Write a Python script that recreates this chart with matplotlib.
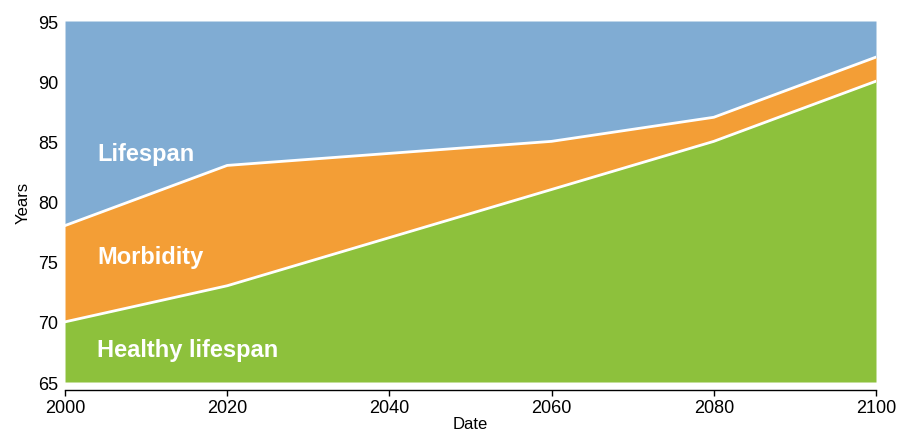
import numpy as np
import matplotlib.pyplot as plt

plt.rcParams['font.family'] = ['Liberation Sans', 'DejaVu Sans']

# data
years = [2000, 2020, 2040, 2060, 2080, 2100]
healthy = [70, 73, 77, 81, 85, 90]
lifespan = [78, 83, 84, 85, 87, 92]
y_min, y_max = 65, 95

c_blue = '#80acd3'
c_orange = '#f39e36'
c_green = '#8dc13c'

fig = plt.figure(figsize=(8.98, 4.35), dpi=100)
ax = fig.add_axes([0.0724, 0.1195, 0.9031, 0.8299])

ax.fill_between(years, y_min, healthy, color=c_green, lw=0)
ax.fill_between(years, healthy, lifespan, color=c_orange, lw=0)
ax.fill_between(years, lifespan, y_max, color=c_blue, lw=0)
ax.plot(years, healthy, color='white', lw=2)
ax.plot(years, lifespan, color='white', lw=2)

ax.set_xlim(2000, 2100)
ax.set_ylim(y_min, y_max)
ax.set_xticks(years)
ax.set_yticks(np.arange(65, 96, 5))

for s in ['top', 'right', 'left']:
    ax.spines[s].set_visible(False)
ax.spines['bottom'].set_position(('outward', 5.5))
ax.spines['bottom'].set_linewidth(1)
ax.tick_params(axis='x', length=4, width=1, labelsize=13, pad=3)
ax.tick_params(axis='y', length=0, labelsize=13, pad=5)

ax.set_xlabel('Date', fontsize=12, labelpad=0)
ax.set_ylabel('Years', fontsize=12, labelpad=5)

lab = dict(color='white', fontsize=17, fontweight='bold', va='center', ha='left')
ax.text(2004, 83.95, 'Lifespan', **lab)
ax.text(2004, 75.45, 'Morbidity', **lab)
ax.text(2004, 67.7, 'Healthy lifespan', **lab)

fig.savefig('out.png', dpi=100)
